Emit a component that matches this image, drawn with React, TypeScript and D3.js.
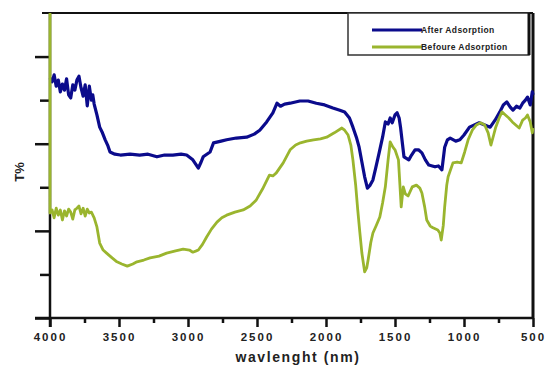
import React, { useRef, useEffect } from 'react';
import * as d3 from 'd3';

// [wavenumber (cm-1), T%]
const afterAdsorption: [number, number][] = [
  [4000, 55.1], [3985, 54.2], [3970, 55.8], [3955, 53.2], [3940, 54.6], [3925, 51.9],
  [3910, 53.7], [3895, 52.3], [3880, 54.9], [3865, 51.2], [3850, 50.5], [3835, 53.5],
  [3820, 52.3], [3805, 54.6], [3790, 55.5], [3775, 52.8], [3760, 50.9], [3745, 53.5],
  [3730, 48.7], [3715, 53.2], [3700, 50.0], [3690, 51.2], [3680, 49.1], [3660, 46.6],
  [3640, 43.8], [3620, 42.5], [3600, 40.9], [3580, 39.5], [3565, 38.1], [3530, 37.6],
  [3490, 37.4], [3420, 37.6], [3350, 37.4], [3290, 37.6], [3225, 37.0], [3170, 37.4],
  [3110, 37.4], [3050, 37.6], [3010, 37.4], [2965, 36.3], [2925, 34.4], [2905, 35.8],
  [2890, 37.0], [2840, 38.1], [2815, 40.2], [2760, 40.6], [2720, 40.9], [2650, 41.3],
  [2575, 41.5], [2520, 42.2], [2480, 43.1], [2430, 45.0], [2385, 47.1], [2355, 49.3],
  [2330, 48.6], [2300, 49.1], [2260, 49.3], [2190, 49.8], [2130, 49.8], [2070, 49.3],
  [2010, 48.9], [1950, 48.2], [1900, 47.7], [1865, 47.3], [1830, 45.9], [1805, 43.8],
  [1780, 41.5], [1760, 39.2], [1740, 35.8], [1720, 32.4], [1700, 29.8], [1680, 30.5],
  [1660, 31.7], [1640, 34.4], [1615, 37.9], [1590, 41.5], [1570, 45.0], [1550, 44.5],
  [1535, 45.9], [1520, 44.8], [1500, 46.6], [1485, 47.1], [1470, 45.9], [1460, 43.8],
  [1445, 39.7], [1435, 37.0], [1420, 36.7], [1400, 36.3], [1380, 37.4], [1355, 38.6],
  [1330, 38.6], [1305, 37.9], [1280, 36.3], [1255, 35.1], [1230, 34.9], [1210, 34.7],
  [1185, 34.9], [1160, 34.0], [1140, 39.2], [1120, 40.9], [1100, 41.3], [1060, 40.6],
  [1030, 40.9], [1000, 42.0], [960, 43.8], [925, 44.3], [890, 44.8], [850, 44.3],
  [810, 43.8], [775, 45.4], [740, 47.3], [715, 48.9], [690, 49.6], [665, 48.4],
  [645, 47.7], [620, 48.6], [595, 48.2], [575, 49.3], [555, 50.0], [540, 50.7],
  [520, 48.9], [505, 51.9], [500, 51.2],
];

const beforeAdsorption: [number, number][] = [
  [4000, 70.0], [4000, 24.1], [3985, 24.8], [3970, 23.0], [3955, 25.2], [3940, 23.6],
  [3925, 24.8], [3910, 22.5], [3895, 24.6], [3880, 23.4], [3865, 25.0], [3850, 24.3],
  [3835, 22.7], [3820, 24.8], [3805, 25.2], [3790, 25.7], [3775, 23.9], [3760, 25.2],
  [3745, 23.4], [3730, 25.0], [3715, 24.1], [3700, 24.3], [3680, 23.0], [3660, 20.9],
  [3640, 17.2], [3615, 15.6], [3590, 14.9], [3550, 13.8], [3515, 12.9], [3480, 12.4],
  [3440, 11.9], [3400, 12.4], [3370, 12.9], [3320, 13.3], [3275, 13.8], [3210, 14.2],
  [3155, 14.9], [3090, 15.4], [3035, 15.8], [2990, 15.6], [2965, 15.1], [2940, 15.4],
  [2925, 15.6], [2895, 16.9], [2865, 18.6], [2830, 20.4], [2790, 22.0], [2755, 23.0],
  [2720, 23.6], [2660, 24.3], [2600, 24.8], [2550, 25.7], [2505, 27.1], [2460, 29.6],
  [2410, 32.8], [2385, 32.6], [2360, 33.3], [2310, 35.6], [2260, 38.6], [2220, 39.7],
  [2185, 40.2], [2140, 40.6], [2090, 40.9], [2040, 41.1], [1995, 41.5], [1940, 42.5],
  [1885, 43.6], [1865, 43.1], [1840, 42.0], [1820, 39.7], [1805, 36.3], [1785, 30.5],
  [1770, 24.8], [1755, 19.7], [1740, 14.9], [1720, 10.6], [1705, 11.5], [1695, 13.3],
  [1675, 17.4], [1660, 19.5], [1635, 21.3], [1610, 23.2], [1590, 26.4], [1570, 30.1],
  [1550, 36.3], [1535, 40.4], [1515, 39.2], [1500, 38.6], [1475, 36.3], [1455, 25.5],
  [1440, 30.1], [1425, 28.5], [1405, 28.0], [1375, 30.1], [1345, 30.5], [1320, 29.8],
  [1305, 28.7], [1285, 25.5], [1270, 22.5], [1245, 21.1], [1225, 20.7], [1190, 20.2],
  [1175, 19.5], [1165, 17.9], [1150, 21.3], [1140, 25.5], [1125, 30.5], [1115, 32.4],
  [1080, 35.6], [1050, 35.8], [1020, 35.6], [995, 38.1], [970, 40.9], [940, 43.1],
  [910, 44.3], [880, 44.8], [850, 44.3], [825, 42.5], [805, 39.7], [785, 42.0],
  [770, 43.8], [745, 45.9], [725, 47.3], [700, 46.6], [675, 45.9], [650, 45.0],
  [625, 44.3], [600, 43.6], [575, 45.4], [555, 45.9], [540, 46.6], [520, 45.0],
  [505, 42.5], [500, 43.6],
];

const xMajorTicks = [4000, 3500, 3000, 2500, 2000, 1500, 1000, 500];
const xMinorTicks = [3750, 3250, 2750, 2250, 1750, 1250, 750];
const yMajorTicks = [0, 20, 40, 60];
const yMinorTicks = [10, 30, 50];

const seriesNames = ['After Adsorption', 'Befoure Adsorption'];
const seriesColors = ['#0b0b8c', '#9ab52e'];

const App: React.FC = () => {
  const svgRef = useRef<SVGSVGElement | null>(null);

  useEffect(() => {
    if (!svgRef.current) return;
    const svg = d3.select(svgRef.current);
    svg.selectAll('*').remove();

    const width = 545;
    const height = 371;
    const margin = { top: 13, right: 12, bottom: 53, left: 50 };
    const font = '"Liberation Sans", Arial, sans-serif';

    const x = d3.scaleLinear().domain([4000, 500]).range([margin.left, width - margin.right]);
    const y = d3.scaleLinear().domain([0, 70]).range([height - margin.bottom, margin.top]);

    // frame
    svg.append('line')
      .attr('x1', 42).attr('x2', x(500))
      .attr('y1', y(70)).attr('y2', y(70))
      .attr('stroke', '#111').attr('stroke-width', 2);
    svg.append('line')
      .attr('x1', x(500)).attr('x2', x(500))
      .attr('y1', y(70)).attr('y2', y(0))
      .attr('stroke', '#111').attr('stroke-width', 3);

    // x axis
    const xMinor = svg.append('g')
      .attr('transform', `translate(0,${y(0)})`)
      .call(d3.axisBottom(x).tickValues(xMinorTicks).tickSize(5).tickFormat(() => ''));
    const xMajor = svg.append('g')
      .attr('transform', `translate(0,${y(0)})`)
      .call(d3.axisBottom(x).tickValues(xMajorTicks).tickSize(9).tickPadding(6).tickFormat(d3.format('d')));
    [xMinor, xMajor].forEach(g => {
      g.select('.domain').remove();
      g.selectAll('line').attr('stroke', '#111').attr('stroke-width', 2.5);
    });
    xMajor.selectAll('text')
      .attr('fill', '#222')
      .style('font-family', font)
      .style('font-weight', 'bold')
      .style('font-size', '11.5px')
      .style('letter-spacing', '2px');
    svg.append('line')
      .attr('x1', 35).attr('x2', x(500))
      .attr('y1', y(0)).attr('y2', y(0))
      .attr('stroke', '#111').attr('stroke-width', 2.5);

    // y axis
    const yMinor = svg.append('g')
      .attr('transform', `translate(${x(4000)},0)`)
      .call(d3.axisLeft(y).tickValues(yMinorTicks).tickSize(10).tickFormat(() => ''));
    const yMajor = svg.append('g')
      .attr('transform', `translate(${x(4000)},0)`)
      .call(d3.axisLeft(y).tickValues(yMajorTicks).tickSize(15).tickFormat(() => ''));
    [yMinor, yMajor].forEach(g => {
      g.select('.domain').remove();
      g.selectAll('line').attr('stroke', '#111').attr('stroke-width', 2.5);
    });
    svg.append('line')
      .attr('x1', x(4000)).attr('x2', x(4000))
      .attr('y1', y(70)).attr('y2', y(0) + 9)
      .attr('stroke', '#111').attr('stroke-width', 2.5);

    // axis titles
    svg.append('text')
      .attr('x', 298).attr('y', 362)
      .attr('text-anchor', 'middle')
      .attr('fill', '#222')
      .style('font-family', font)
      .style('font-weight', 'bold')
      .style('font-size', '14px')
      .style('letter-spacing', '1.6px')
      .text('wavlenght (nm)');
    svg.append('text')
      .attr('transform', 'translate(24,172) rotate(-90)')
      .attr('text-anchor', 'middle')
      .attr('fill', '#222')
      .style('font-family', font)
      .style('font-weight', 'bold')
      .style('font-size', '13px')
      .text('T%');

    // spectra
    const line = d3.line<[number, number]>()
      .x(d => x(d[0]))
      .y(d => y(d[1]));
    [afterAdsorption, beforeAdsorption].forEach((data, i) => {
      svg.append('path')
        .datum(data)
        .attr('fill', 'none')
        .attr('stroke', seriesColors[i])
        .attr('stroke-width', i === 0 ? 3.2 : 2.8)
        .attr('stroke-linejoin', 'round')
        .attr('d', line);
    });

    // legend
    const legend = svg.append('g');
    legend.append('rect')
      .attr('x', 348).attr('y', y(70))
      .attr('width', 181).attr('height', 42)
      .attr('fill', '#fff')
      .attr('stroke', '#333').attr('stroke-width', 1.5);
    legend.append('line')
      .attr('x1', 529).attr('x2', 529)
      .attr('y1', y(70)).attr('y2', y(70) + 42)
      .attr('stroke', '#111').attr('stroke-width', 3);
    seriesNames.forEach((name, i) => {
      const ly = 30 + i * 17;
      legend.append('line')
        .attr('x1', 372).attr('x2', 422)
        .attr('y1', ly).attr('y2', ly)
        .attr('stroke', seriesColors[i]).attr('stroke-width', 3);
      legend.append('text')
        .attr('x', 421).attr('y', ly + 3)
        .attr('fill', '#222')
        .style('font-family', font)
        .style('font-weight', 'bold')
        .style('font-size', '8.5px')
        .style('letter-spacing', '0.4px')
        .text(name);
    });
  }, []);

  return (
    <svg ref={svgRef} width={545} height={371}
      style={{ position: 'absolute', left: 0, top: 0, background: '#fff' }} />
  );
};

export default App;
